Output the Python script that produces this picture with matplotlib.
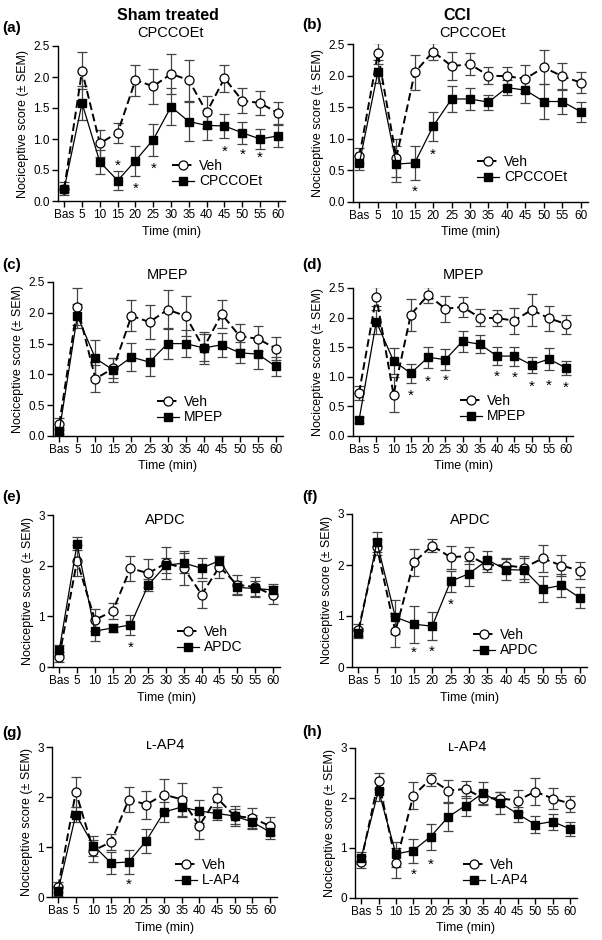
import numpy as np
import matplotlib
matplotlib.use('Agg')
import matplotlib.pyplot as plt
from matplotlib.ticker import FormatStrFormatter

plt.rcParams['font.family'] = ['Liberation Sans', 'DejaVu Sans']
plt.rcParams['font.size'] = 8

# Time points
times = ['Bas', '5', '10', '15', '20', '25', '30', '35', '40', '45', '50', '55', '60']

# Vehicle groups (shared by all panels of a column)
sham_veh = [0.20, 2.10, 0.93, 1.10, 1.95, 1.85, 2.05, 1.95, 1.43, 1.98, 1.62, 1.58, 1.42]
sham_veh_sem = [0.10, 0.30, 0.22, 0.16, 0.25, 0.28, 0.32, 0.33, 0.26, 0.22, 0.20, 0.20, 0.18]
cci_veh = [0.73, 2.35, 0.70, 2.05, 2.38, 2.15, 2.18, 2.00, 1.99, 1.95, 2.13, 1.99, 1.89]
cci_veh_sem = [0.12, 0.16, 0.30, 0.27, 0.13, 0.22, 0.17, 0.14, 0.14, 0.22, 0.27, 0.21, 0.16]

# Drug groups
cpccoet_sham = [0.20, 1.58, 0.63, 0.33, 0.65, 0.99, 1.52, 1.28, 1.22, 1.21, 1.10, 1.00, 1.05]
cpccoet_sham_sem = [0.05, 0.28, 0.20, 0.15, 0.24, 0.26, 0.30, 0.31, 0.24, 0.20, 0.18, 0.16, 0.18]
cpccoet_cci = [0.62, 2.06, 0.60, 0.62, 1.20, 1.63, 1.63, 1.58, 1.81, 1.77, 1.59, 1.59, 1.43]
cpccoet_cci_sem = [0.12, 0.18, 0.28, 0.27, 0.23, 0.21, 0.17, 0.12, 0.12, 0.21, 0.27, 0.20, 0.16]
mpep_sham = [0.08, 1.95, 1.26, 1.07, 1.28, 1.20, 1.50, 1.50, 1.43, 1.48, 1.35, 1.33, 1.13]
mpep_sham_sem = [0.05, 0.20, 0.30, 0.20, 0.23, 0.22, 0.25, 0.22, 0.22, 0.20, 0.17, 0.24, 0.16]
mpep_cci = [0.27, 1.93, 1.27, 1.06, 1.33, 1.29, 1.60, 1.55, 1.35, 1.35, 1.20, 1.30, 1.15]
mpep_cci_sem = [0.05, 0.20, 0.22, 0.16, 0.18, 0.18, 0.18, 0.15, 0.15, 0.16, 0.13, 0.19, 0.12]
apdc_sham = [0.33, 2.43, 0.71, 0.77, 0.83, 1.62, 2.01, 2.05, 1.95, 2.10, 1.57, 1.55, 1.52]
apdc_sham_sem = [0.10, 0.13, 0.20, 0.08, 0.20, 0.12, 0.15, 0.20, 0.20, 0.10, 0.12, 0.15, 0.12]
apdc_cci = [0.67, 2.45, 0.98, 0.84, 0.80, 1.68, 1.83, 2.10, 1.91, 1.90, 1.53, 1.60, 1.36]
apdc_cci_sem = [0.10, 0.20, 0.33, 0.36, 0.27, 0.20, 0.25, 0.17, 0.20, 0.23, 0.25, 0.22, 0.20]
lap4_sham = [0.13, 1.65, 1.03, 0.68, 0.70, 1.13, 1.70, 1.80, 1.72, 1.67, 1.62, 1.50, 1.30]
lap4_sham_sem = [0.10, 0.15, 0.20, 0.22, 0.24, 0.24, 0.20, 0.20, 0.23, 0.13, 0.15, 0.14, 0.14]
lap4_cci = [0.80, 2.15, 0.88, 0.95, 1.23, 1.62, 1.85, 2.10, 1.90, 1.68, 1.47, 1.53, 1.38]
lap4_cci_sem = [0.12, 0.20, 0.25, 0.24, 0.26, 0.28, 0.20, 0.22, 0.22, 0.15, 0.17, 0.16, 0.14]

# significance markers: (time index, y)
stars_a = [(3, 0.57), (4, 0.20), (5, 0.52), (9, 0.80), (10, 0.75), (11, 0.69)]
stars_b = [(3, 0.16), (4, 0.74)]
stars_c = []
stars_d = [(3, 0.68), (4, 0.91), (5, 0.93), (8, 1.00), (9, 0.98), (10, 0.83), (11, 0.85), (12, 0.81)]
stars_e = [(4, 0.37)]
stars_f = [(3, 0.27), (4, 0.30), (5, 1.22)]
stars_g = [(4, 0.25)]
stars_h = [(3, 0.46), (4, 0.67)]

W, H = 602, 940
fig = plt.figure(figsize=(W / 100, H / 100), dpi=100)
x = np.arange(len(times))


def px_rect(l, r, t, b):
    return [l / W, 1 - b / H, (r - l) / W, (b - t) / H]


def panel(rect, label, lab_xy, title, title_xy, name, mean, sem, veh, veh_sem,
          ymax, yticks, fmt, stars, leg_xy):
    ax = fig.add_axes(px_rect(*rect))
    ax.errorbar(x, veh, yerr=veh_sem, fmt='none', ecolor='#444444',
                elinewidth=0.9, capsize=3.5, capthick=0.9, zorder=2)
    ax.errorbar(x, mean, yerr=sem, fmt='none', ecolor='#444444',
                elinewidth=0.9, capsize=3.5, capthick=0.9, zorder=2)
    ax.plot(x, veh, linestyle=(0, (4, 2)), color='black', lw=1.4,
            marker='o', ms=6.5, mfc='white', mec='black', mew=0.9,
            label='Veh', zorder=3)
    ax.plot(x, mean, linestyle='-', color='black', lw=0.9,
            marker='s', ms=6, mfc='black', mec='black',
            label=name, zorder=4)
    for xi, yi in stars:
        ax.text(xi, yi, '*', ha='center', va='center', fontsize=11)
    ax.set_xlim(-0.35, 12.4)
    ax.set_ylim(0, ymax)
    ax.set_yticks(yticks)
    ax.yaxis.set_major_formatter(FormatStrFormatter(fmt))
    ax.set_xticks(x)
    ax.set_xticklabels(times)
    for s in ['top', 'right']:
        ax.spines[s].set_visible(False)
    for s in ['left', 'bottom']:
        ax.spines[s].set_linewidth(1.0)
    ax.tick_params(length=4, width=1.0, labelsize=8.5, pad=2)
    ax.set_xlabel('Time (min)', fontsize=9, labelpad=3)
    ax.set_ylabel('Nociceptive score (\u00b1 SEM)', fontsize=9, labelpad=3)
    fig.text(lab_xy[0] / W, 1 - lab_xy[1] / H, label, fontsize=11,
             fontweight='bold', va='center', ha='left')
    fig.text(title_xy[0] / W, 1 - title_xy[1] / H, title, fontsize=10.5,
             va='center', ha='center')
    ax.legend(loc='upper left', bbox_to_anchor=(leg_xy[0] / W, 1 - (leg_xy[1] - 8) / H),
              bbox_transform=fig.transFigure, frameon=False, fontsize=10,
              handlelength=1.6, handletextpad=0.35, borderpad=0,
              borderaxespad=0, labelspacing=0.1)
    return ax


t25 = [0.0, 0.5, 1.0, 1.5, 2.0, 2.5]
t3 = [0, 1, 2, 3]

panel((58, 285, 46, 201), '(a)', (2, 28), 'CPCCOEt', (170, 33), 'CPCCOEt',
      cpccoet_sham, cpccoet_sham_sem, sham_veh, sham_veh_sem,
      2.5, t25, '%.1f', stars_a, (172, 167))
panel((353, 588, 44, 202), '(b)', (302, 25), 'CPCCOEt', (473, 33), 'CPCCOEt',
      cpccoet_cci, cpccoet_cci_sem, cci_veh, cci_veh_sem,
      2.5, t25, '%.1f', stars_b, (477, 163))
panel((53, 283, 282, 436), '(c)', (2, 265), 'MPEP', (167, 275), 'MPEP',
      mpep_sham, mpep_sham_sem, sham_veh, sham_veh_sem,
      2.5, t25, '%.1f', stars_c, (157, 403))
panel((353, 573, 288, 436), '(d)', (302, 265), 'MPEP', (463, 275), 'MPEP',
      mpep_cci, mpep_cci_sem, cci_veh, cci_veh_sem,
      2.5, t25, '%.1f', stars_d, (460, 402))
panel((53, 280, 515, 667), '(e)', (2, 497), 'APDC', (165, 520), 'APDC',
      apdc_sham, apdc_sham_sem, sham_veh, sham_veh_sem,
      3, t3, '%d', stars_e, (177, 633))
panel((352, 587, 514, 667), '(f)', (302, 497), 'APDC', (470, 520), 'APDC',
      apdc_cci, apdc_cci_sem, cci_veh, cci_veh_sem,
      3, t3, '%d', stars_f, (473, 636))
panel((52, 277, 747, 897), '(g)', (2, 733), '\u029f-AP4', (165, 745), 'L-AP4',
      lap4_sham, lap4_sham_sem, sham_veh, sham_veh_sem,
      3, t3, '%d', stars_g, (175, 866))
panel((355, 577, 748, 898), '(h)', (302, 732), '\u029f-AP4', (467, 747), 'L-AP4',
      lap4_cci, lap4_cci_sem, cci_veh, cci_veh_sem,
      3, t3, '%d', stars_h, (463, 866))

fig.text(168 / W, 1 - 15 / H, 'Sham treated', fontsize=11.5, fontweight='bold',
         ha='center', va='center')
fig.text(457 / W, 1 - 15 / H, 'CCI', fontsize=11.5, fontweight='bold',
         ha='center', va='center')

fig.savefig('out.png', dpi=100)
